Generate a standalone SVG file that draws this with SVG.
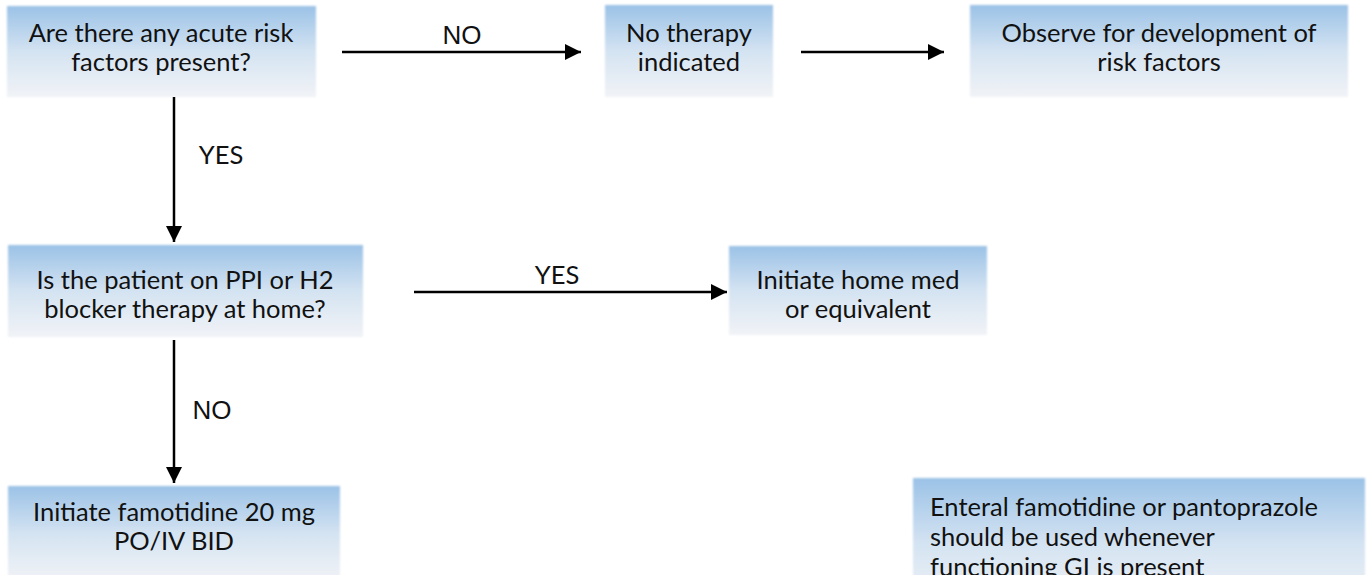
<svg xmlns="http://www.w3.org/2000/svg" width="1370" height="575" viewBox="0 0 1370 575">
<defs>
<linearGradient id="g" x1="0" y1="0" x2="0" y2="1">
<stop offset="0" stop-color="#9bc2e6"/>
<stop offset="0.5" stop-color="#d4e3f2"/>
<stop offset="1" stop-color="#f1f3f6"/>
</linearGradient>
<filter id="soft" x="-5%" y="-5%" width="110%" height="110%">
<feGaussianBlur stdDeviation="1"/>
</filter>
<marker id="ah" markerUnits="userSpaceOnUse" markerWidth="16" markerHeight="16" viewBox="0 0 16 16" refX="16" refY="8" orient="auto">
<path d="M0,0 L16,8 L0,16 Z" fill="#000"/>
</marker>
<style>
.box{fill:url(#g);filter:url(#soft);}
.t{font-family:Lato,"Liberation Sans",sans-serif;font-size:25.5px;fill:#111;text-anchor:middle;}
.tl{font-family:Lato,"Liberation Sans",sans-serif;font-size:25.5px;fill:#111;}
.lab{font-family:"Liberation Sans",Arial,sans-serif;font-size:26px;fill:#111;text-anchor:middle;}
.c{stroke:#000;stroke-width:2.5;fill:none;marker-end:url(#ah);}
</style>
</defs>
<g id="n1"><rect class="box" x="7" y="6" width="309" height="91"/>
<text class="t" x="161" y="42">Are there any acute risk</text>
<text class="t" x="161" y="71">factors present?</text></g>
<g id="n2"><rect class="box" x="605" y="5" width="168" height="92"/>
<text class="t" x="689" y="42">No therapy</text>
<text class="t" x="689" y="71">indicated</text></g>
<g id="n3"><rect class="box" x="970" y="5" width="378" height="92"/>
<text class="t" x="1159" y="42">Observe for development of</text>
<text class="t" x="1159" y="71">risk factors</text></g>
<g id="n4"><rect class="box" x="8" y="245" width="355" height="92"/>
<text class="t" x="185" y="289">Is the patient on PPI or H2</text>
<text class="t" x="185" y="318">blocker therapy at home?</text></g>
<g id="n5"><rect class="box" x="729" y="246" width="258" height="89"/>
<text class="t" x="858" y="289">Initiate home med</text>
<text class="t" x="858" y="318">or equivalent</text></g>
<g id="n6"><rect class="box" x="8" y="486" width="332" height="95"/>
<text class="t" x="174" y="521">Initiate famotidine 20 mg</text>
<text class="t" x="174" y="550">PO/IV BID</text></g>
<g id="n7"><rect class="box" x="913" y="478" width="452" height="130"/>
<text class="tl" x="930" y="516">Enteral famotidine or pantoprazole</text>
<text class="tl" x="930" y="546">should be used whenever</text>
<text class="tl" x="930" y="576">functioning GI is present</text></g>
<g id="connectors">
<line class="c" x1="342" y1="52" x2="581" y2="52"/>
<line class="c" x1="801" y1="52" x2="944" y2="52"/>
<line class="c" x1="174" y1="97" x2="174" y2="242"/>
<line class="c" x1="414" y1="292" x2="727" y2="292"/>
<line class="c" x1="174" y1="340" x2="174" y2="483"/>
<text class="lab" x="462" y="44">NO</text>
<text class="t" x="221" y="164">YES</text>
<text class="t" x="557" y="284">YES</text>
<text class="lab" x="212" y="419">NO</text>
</g>
</svg>
